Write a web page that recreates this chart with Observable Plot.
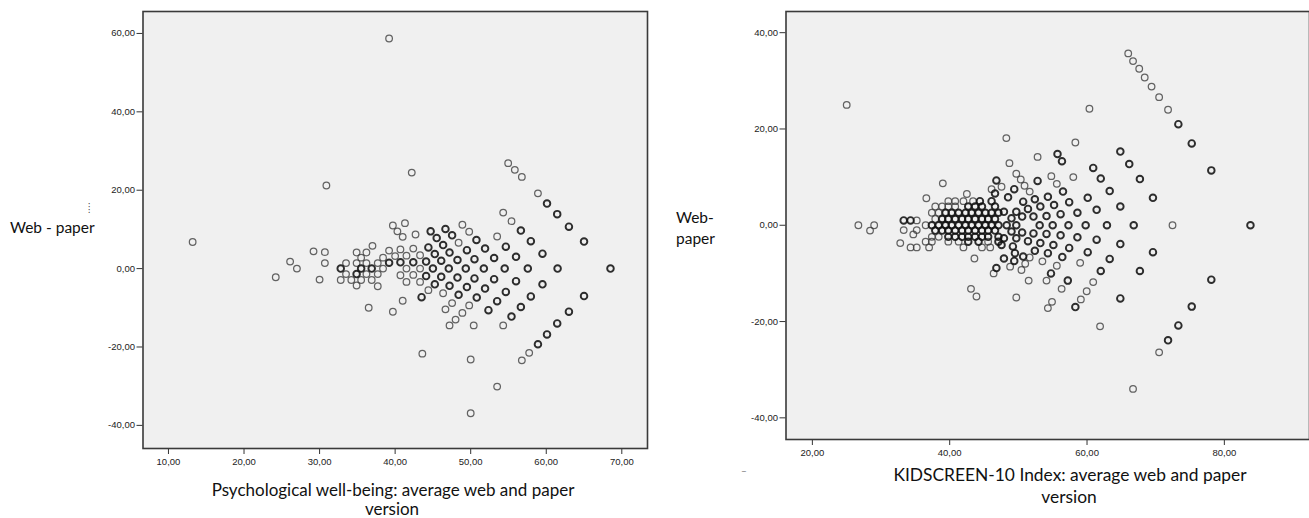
<!DOCTYPE html>
<html><head><meta charset="utf-8">
<script src="https://cdn.jsdelivr.net/npm/d3@7"></script>
<script src="https://cdn.jsdelivr.net/npm/@observablehq/plot@0.6"></script>
<style>
html,body{margin:0;padding:0;background:#fff}
body{width:1309px;height:518px;overflow:hidden;position:relative}
.panel{position:absolute;top:0}
.lab{position:absolute;font-family:Lato,"Open Sans",sans-serif;font-size:15.5px;color:#111;white-space:nowrap;transform:translate(0,-50%);line-height:1}
.ctr{transform:translate(-50%,-50%)}
</style></head><body>
<div id="left" class="panel" style="left:0"></div>
<div id="right" class="panel" style="left:660px"></div>
<div class="lab" style="left:10px;top:228px">Web - paper</div>
<div class="lab" style="left:88px;top:207px;font-size:9px;color:#444">⁞</div>
<div class="lab ctr" style="left:393px;top:489px;font-size:17px">Psychological well-being: average web and paper</div>
<div class="lab ctr" style="left:392px;top:508px;font-size:17px">version</div>
<div class="lab" style="left:676px;top:218px">Web-</div>
<div class="lab" style="left:676px;top:239px">paper</div>
<div class="lab ctr" style="left:1070px;top:475px;font-size:17.4px">KIDSCREEN-10 Index: average web and paper</div>
<div class="lab ctr" style="left:1069px;top:497px;font-size:17.4px">version</div>
<div class="lab" style="left:741px;top:470px;font-size:10px;color:#777">–</div>
<script>
// Psychological well-being: [average of web and paper, web - paper, 1 = single / 2 = several cases]
const pwbXTicks = [10, 20, 30, 40, 50, 60, 70];
const pwbYTicks = [-40, -20, 0, 20, 40, 60];
const pwbPoints = [
  [13.2,6.8,1],[39.2,58.7,1],[42.2,24.5,1],[30.9,21.2,1],[43.6,-21.7,1],[50.0,-23.2,1],[53.5,-30.1,1],[50.0,-36.9,1],
  [24.2,-2.2,1],[26.1,1.8,1],[27.0,0,1],[29.2,4.4,1],[30.7,4.2,1],[30.7,1.4,1],[30.0,-2.8,1],[36.5,-10.0,1],[39.7,-11.0,1],[41.0,-8.2,1],
  [32.8,0,2],[32.8,-2.9,1],[33.5,1.4,1],[33.5,-1.4,1],[34.2,-2.9,1],[34.9,4.1,1],[34.9,1.4,1],[34.9,-1.4,2],[34.9,-4.3,1],[35.5,2.8,1],
  [35.5,0,2],[35.5,-2.9,1],[36.2,4.1,1],[36.2,1.4,1],[36.2,-1.4,1],[37.0,5.8,1],[36.9,0,2],[36.9,-2.9,1],[37.7,1.4,1],[37.7,-1.4,1],
  [37.7,-4.5,1],[38.4,2.8,1],[38.4,0,1],[39.2,4.6,1],[39.2,1.5,2],[40.0,3.2,1],
  [39.7,11.0,1],[40.3,9.5,1],[41.0,8.1,1],[41.3,11.6,1],[40.7,4.9,1],[40.7,1.6,2],[40.7,-1.7,1],[41.5,3.3,1],[41.5,0,1],[41.5,-3.4,1],
  [42.4,5.1,1],[42.4,1.6,2],[42.4,-1.6,1],[42.7,8.7,1],[43.3,3.4,1],[43.3,0,1],[43.3,-3.4,1],[43.5,-7.3,2],
  [44.4,5.4,2],[45.25,3.7,2],[46.1,2.0,2],[47.1,0,2],[46.1,-2.1,2],[45.25,-4.0,2],[44.4,-5.5,1],[44.1,1.8,2],[44.1,-1.9,2],[45.0,0,2],
  [44.7,9.5,2],[45.5,7.8,2],[46.35,6.0,2],[47.2,4.1,2],[48.25,2.2,2],[49.35,0,2],[48.25,-2.3,2],[47.2,-4.4,2],[46.35,-6.3,1],
  [46.66,10.1,2],[47.54,8.5,2],[48.4,6.6,1],[49.5,4.7,2],[50.5,2.4,2],[51.74,0,2],[50.5,-2.5,2],[49.5,-4.7,2],[48.4,-6.7,2],[47.54,-8.8,1],[46.66,-10.4,1],
  [48.9,11.2,1],[49.8,9.4,1],
  [50.76,7.3,2],[51.9,5.1,2],[53.1,2.7,2],[54.5,0,2],[53.1,-2.7,2],[51.9,-5.1,2],[50.8,-7.4,2],[49.8,-9.4,1],[48.9,-11.3,1],[48.0,-13.0,1],[47.2,-14.5,1],
  [53.5,8.2,1],[54.65,5.6,2],[56.0,3.0,2],[57.56,0,2],[56.0,-3.2,2],[54.65,-5.95,2],[53.5,-8.3,2],[52.35,-10.6,2],
  [54.3,14.3,1],[55.4,12.1,1],[56.64,9.7,2],[57.96,7.0,2],[59.5,3.8,2],[61.5,0,2],[59.5,-4.0,2],[57.96,-7.1,2],[56.64,-9.8,2],[55.4,-12.25,2],[54.3,-14.5,1],
  [54.96,26.9,1],[55.84,25.2,1],[56.77,23.4,1],[58.9,19.2,1],[60.1,16.6,2],[61.45,13.9,2],[63.0,10.7,2],[65.0,6.9,2],[68.5,0,2],
  [65.0,-7.0,2],[63.0,-11.0,2],[61.45,-14.0,2],[60.1,-16.8,2],[58.9,-19.3,2],[57.74,-21.5,1],[56.77,-23.4,1],
  [50.4,-14.5,1]
];

// KIDSCREEN-10 Index: [average of web and paper, web - paper, 1 = single / 2 = several cases]
const kidXTicks = [20, 40, 60, 80];
const kidYTicks = [-40, -20, 0, 20, 40];
const kidPoints = [
  [25.0,25.0,1],[26.7,0,1],[29.0,0,1],[28.4,-1.1,1],
  [66.0,35.7,1],[66.7,34.1,1],[67.6,32.5,1],[68.4,30.7,1],[69.4,28.8,1],[70.5,26.6,1],[71.8,24.0,1],[73.3,21.0,2],[75.25,17.0,2],[78.1,11.4,2],[83.8,0,2],
  [78.1,-11.3,2],[75.25,-16.9,2],[73.3,-20.8,2],[71.8,-23.9,2],[70.5,-26.4,1],[66.7,-34.0,1],
  [60.35,24.2,1],[48.25,18.1,1],[58.3,17.2,1],[61.9,-21.0,1],
  [64.85,15.3,2],[66.15,12.7,2],[67.7,9.6,2],[69.6,5.7,2],[72.45,0,1],[69.6,-5.6,2],[67.7,-9.5,2],[64.85,-15.2,2],
  [60.9,11.9,2],[62.0,9.7,2],[63.3,7.1,2],[64.85,3.9,2],[66.8,0,2],[64.85,-3.9,2],[63.3,-7.0,2],[62.0,-9.5,2],[60.9,-11.8,1],[59.95,-13.7,1],[59.1,-15.4,1],[58.3,-17.0,2],
  [55.7,14.8,2],[56.35,13.3,2],[58.0,10.0,1],[60.1,5.7,2],[61.4,3.2,2],[62.9,0,2],[61.4,-3.0,2],[60.1,-5.6,2],[59.0,-7.8,1],
  [52.8,14.2,1],[54.8,10.2,1],[55.6,8.6,1],[56.5,7.0,2],[57.4,4.8,2],[58.6,2.6,2],[59.8,0,2],[58.6,-2.5,2],[57.4,-4.7,2],[56.4,-6.6,2],[55.6,-8.4,1],
  [54.9,-15.9,1],[54.3,-17.2,1],[56.3,-13.2,1],[57.2,-11.5,2],
  [52.8,9.2,2],[54.3,5.9,2],[55.2,4.2,2],[56.15,2.3,2],[57.3,0,2],[56.15,-2.1,2],[55.1,-4.1,2],[54.3,-5.8,2],[53.5,-7.5,1],[51.5,-11.5,1],[49.7,-15.0,1],[54.75,-10.0,2],[54.1,-11.5,1],
  [53.2,3.9,2],[54.1,1.9,2],[55.0,0,2],[54.1,-1.8,2],[53.2,-3.7,2],
  [47.55,8.0,1],[48.5,5.8,2],[47.9,2.8,2],[48.3,0,2],[47.9,-2.7,2],[47.55,-4.1,2],[47.9,-6.9,2],[49.0,1.45,2],[49.0,-1.3,2],[49.2,-4.4,2],
  [49.4,7.5,2],[49.7,10.7,1],[49.7,2.8,2],[49.7,0,2],[49.7,-2.7,2],[49.5,-5.8,2],[49.4,-7.4,2],[48.8,-8.6,1],[50.35,9.5,1],[50.55,1.8,2],
  [50.55,-1.5,2],[50.7,4.9,2],[50.9,8.2,1],[50.7,-6.5,2],[50.45,-9.3,1],[51.0,-8.0,1],[51.65,7.0,1],[51.4,3.4,2],[51.4,-3.3,2],[52.2,1.8,2],
  [52.2,-1.7,2],[52.4,5.4,2],[52.4,-5.3,2],[51.65,-6.7,1],[53.1,0,2],[48.7,12.9,1],
  [36.5,0,1],[37.4,0,2],[38.4,0,2],[39.4,0,2],[40.3,0,2],[41.3,0,2],[42.3,0,2],[43.2,0,2],[44.2,0,2],[45.2,0,2],[46.1,0,2],[47.1,0,2],
  [37.9,1.3,1],[38.9,1.3,2],[39.8,1.3,2],[40.8,1.3,2],[41.8,1.3,2],[42.7,1.3,2],[43.7,1.3,2],[44.7,1.3,2],[45.6,1.3,2],[46.6,1.3,2],
  [37.9,-1.1,2],[38.9,-1.1,2],[39.8,-1.1,2],[40.8,-1.1,2],[41.8,-1.1,2],[42.7,-1.1,2],[43.7,-1.1,2],[44.7,-1.1,2],[45.6,-1.1,2],[46.6,-1.1,2],
  [37.4,2.6,1],[38.4,2.6,1],[39.4,2.6,2],[40.3,2.6,2],[41.3,2.6,2],[42.3,2.6,2],[43.2,2.6,2],[44.2,2.6,2],[45.2,2.6,2],[46.1,2.6,2],[47.1,2.6,2],
  [37.4,-2.4,1],[38.4,-2.4,1],[39.8,-2.4,2],[40.8,-2.4,2],[41.8,-2.4,2],[42.7,-2.4,2],[43.7,-2.4,2],[44.7,-2.4,2],[45.6,-2.4,2],[47.1,-2.4,2],
  [37.9,3.9,1],[38.9,3.9,1],[39.8,3.9,1],[40.8,3.9,1],[42.7,3.9,2],[43.7,3.9,2],[44.7,3.9,2],[46.6,3.9,2],
  [36.5,-3.4,1],[37.4,-3.4,1],[39.8,-3.4,1],[41.3,-3.4,1],[42.7,-3.4,2],[44.2,-3.4,2],[45.6,-3.4,1],[47.1,-3.4,2],
  [39.8,5.0,1],[40.8,5.0,1],[42.0,5.0,1],[43.4,5.0,1],[44.4,5.0,2],[46.1,5.0,2],
  [34.3,-4.6,1],[35.2,-4.6,1],[37.0,-4.6,1],[42.0,-4.6,1],[44.7,-4.6,1],[45.9,-4.6,1],
  [33.3,1.0,2],[34.3,1.0,2],[35.2,1.0,1],[33.3,-1.0,1],[35.2,-1.0,1],[34.7,-1.9,1],[32.8,-3.7,1],[36.6,5.6,1],[39.0,8.7,1],[42.5,6.5,1],
  [43.6,-6.9,1],[46.4,-10.0,1],[46.8,-8.9,2],[43.1,-13.2,1],[43.9,-14.8,1],[46.1,7.5,1],[46.6,6.6,2],[46.8,9.3,2]
];

const fmt = d => d.toFixed(2).replace(".", ",");

function panel(points, xDomain, yDomain, xTicks, yTicks, width, height, ml, mt, mr, mb) {
  const singles = points.filter(d => d[2] === 1);
  const multiples = points.filter(d => d[2] > 1);
  return Plot.plot({
    width, height,
    marginLeft: ml, marginTop: mt, marginRight: mr, marginBottom: mb,
    x: {domain: xDomain},
    y: {domain: yDomain},
    style: {fontFamily: "'Liberation Sans', Arial, sans-serif", fontSize: "9.5px", color: "#222", background: "transparent", overflow: "visible"},
    marks: [
      Plot.frame({fill: "#f0f0f0", stroke: "none"}),
      Plot.axisX({ticks: xTicks, tickFormat: fmt, tickSize: 6, tickPadding: 4, label: null, stroke: "#333"}),
      Plot.axisY({ticks: yTicks, tickFormat: fmt, tickSize: 6, tickPadding: 2, label: null, stroke: "#333"}),
      Plot.dot(singles, {x: d => d[0], y: d => d[1], r: 3.3, stroke: "#3a3a3a", strokeWidth: 1.25, strokeOpacity: 0.78}),
      Plot.dot(multiples, {x: d => d[0], y: d => d[1], r: 3.3, stroke: "#111", strokeWidth: 1.9, strokeOpacity: 0.88}),
      Plot.frame({stroke: "#3a3a3a", strokeWidth: 1.6})
    ]
  });
}

document.getElementById("left").append(
  panel(pwbPoints, [6.63, 73.4], [-45.9, 65.6], pwbXTicks, pwbYTicks, 660, 478, 142.5, 11, 13, 30)
);
document.getElementById("right").append(
  panel(kidPoints, [16.16, 92.4], [-44.5, 44.4], kidXTicks, kidYTicks, 649, 465, 125.5, 11, 0, 26)
);
</script>
</body></html>
